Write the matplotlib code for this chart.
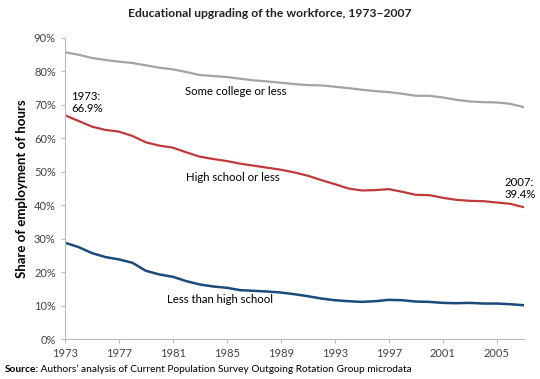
import matplotlib
matplotlib.use("Agg")
import matplotlib.pyplot as plt

plt.rcParams['font.family'] = ['Lato', 'DejaVu Sans']

years = list(range(1973, 2008))
some_college = [85.7, 85.0, 84.0, 83.4, 82.9, 82.5, 81.8, 81.1, 80.6, 79.8,
                78.9, 78.6, 78.3, 77.8, 77.3, 77.0, 76.6, 76.2, 75.9, 75.8,
                75.4, 75.0, 74.5, 74.1, 73.8, 73.3, 72.7, 72.7, 72.2, 71.5,
                71.0, 70.8, 70.7, 70.3, 69.3]
high_school = [66.9, 65.2, 63.5, 62.5, 62.0, 60.7, 58.8, 57.8, 57.2, 55.8,
               54.5, 53.8, 53.2, 52.4, 51.8, 51.2, 50.6, 49.8, 48.8, 47.5,
               46.3, 45.0, 44.4, 44.5, 44.8, 44.0, 43.1, 43.0, 42.2, 41.6,
               41.3, 41.2, 40.8, 40.4, 39.4]
less_than_hs = [28.8, 27.5, 25.7, 24.5, 23.8, 22.8, 20.4, 19.3, 18.6, 17.3,
                16.3, 15.7, 15.3, 14.6, 14.4, 14.2, 13.9, 13.4, 12.8, 12.1,
                11.6, 11.3, 11.1, 11.3, 11.7, 11.6, 11.2, 11.1, 10.8, 10.7,
                10.8, 10.6, 10.6, 10.4, 10.1]
xticks = list(range(1973, 2008, 4))
yticks = list(range(0, 100, 10))

fig = plt.figure(figsize=(5.4, 3.79), dpi=100)
ax = fig.add_axes([0.120, 0.1055, 0.850, 0.7945])

ax.plot(years, some_college, color='#a3a3a3', lw=1.6)
ax.plot(years, high_school, color='#c0393b', lw=1.6)
ax.plot(years, less_than_hs, color='#1b4a7c', lw=1.8)

ax.set_xlim(1973, 2007)
ax.set_ylim(0, 90)
ax.set_xticks(xticks)
ax.set_yticks(yticks)
ax.set_yticklabels([f"{v}%" for v in yticks])
for s in ['top', 'right']:
    ax.spines[s].set_visible(False)
for s in ['left', 'bottom']:
    ax.spines[s].set_color('#bbbbbb')
    ax.spines[s].set_linewidth(0.8)
ax.tick_params(colors='#bbbbbb', labelcolor='#444444', labelsize=8, length=3, width=0.8)
ax.set_ylabel("Share of employment of hours", fontsize=9.5, fontweight='bold', labelpad=4)

ax.text(1981.9, 73.9, "Some college or less", fontsize=8.2, va='center')
ax.text(1982.0, 48.4, "High school or less", fontsize=8.2, va='center')
ax.text(1980.6, 11.7, "Less than high school", fontsize=8.2, va='center')
ax.text(1973.5, 70.8, "1973:\n66.9%", fontsize=8.2, va='center', linespacing=1.1)
ax.text(2005.6, 45.0, "2007:\n39.4%", fontsize=8.2, va='center', linespacing=1.1)

fig.text(0.5, 0.965, "Educational upgrading of the workforce, 1973\u20132007",
         ha='center', va='center', fontsize=8.7, fontweight='bold', color='#222222')
src = fig.text(0.008, 0.025, "Source:", fontsize=7.3, fontweight='bold', va='center')
ax.annotate(" Authors\u2019 analysis of Current Population Survey Outgoing Rotation Group microdata",
            xy=(1, 0.5), xycoords=src, va='center', fontsize=7.3)

fig.savefig("out.png", dpi=100)
